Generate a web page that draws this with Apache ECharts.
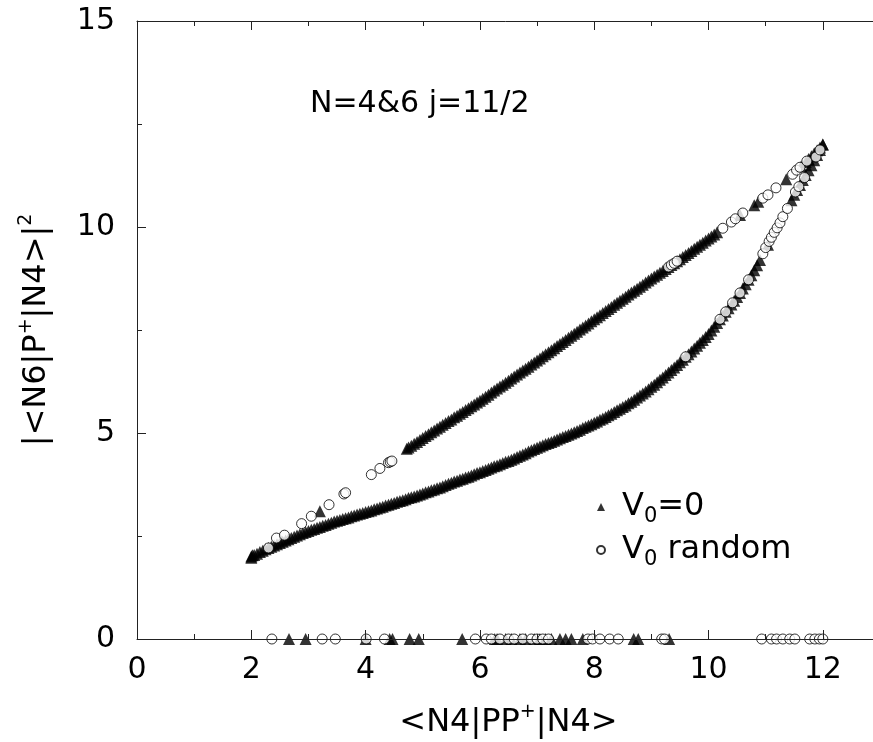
<!DOCTYPE html>
<html>
<head>
<meta charset="utf-8">
<script src="https://cdn.jsdelivr.net/npm/echarts@6/dist/echarts.min.js"></script>
<style>html,body{margin:0;padding:0;background:#fff}#c{width:873px;height:742px}</style>
</head>
<body>
<div id="c"></div>
<script>
// ---- data ----
// V0=0 (filled triangles)
const v0ZeroUpper = [[3.2,3.10],[4.72,4.62],[4.8,4.69],[4.9,4.78],[5.0,4.88],[5.1,4.97],[5.2,5.06],[5.3,5.15],[5.4,5.24],[5.5,5.33],[5.6,5.42],[5.7,5.51],[5.8,5.60],[5.9,5.69],[6.0,5.78],[6.1,5.88],[6.2,5.98],[6.3,6.08],[6.4,6.17],[6.5,6.27],[6.6,6.37],[6.7,6.47],[6.8,6.56],[6.9,6.66],[7.0,6.76],[7.1,6.86],[7.2,6.96],[7.3,7.06],[7.4,7.16],[7.5,7.26],[7.6,7.36],[7.7,7.46],[7.8,7.56],[7.9,7.66],[8.0,7.76],[8.1,7.86],[8.2,7.96],[8.3,8.06],[8.4,8.16],[8.5,8.26],[8.6,8.36],[8.7,8.45],[8.8,8.55],[8.9,8.65],[9.0,8.75],[9.1,8.84],[9.2,8.93],[9.3,9.03],[9.4,9.12],[9.5,9.22],[9.6,9.32],[9.7,9.42],[9.8,9.52],[9.9,9.62],[10.0,9.72],[10.1,9.82],[10.15,9.87],[10.55,10.29],[10.8,10.53],[10.87,10.61],[11.36,11.16],[11.62,11.47],[11.7,11.58],[11.75,11.65],[11.8,11.72],[11.85,11.79],[11.9,11.86],[11.95,11.93],[12.0,12.0]];
const v0ZeroUpperMid = [[4.75,4.65],[4.85,4.74],[4.95,4.83],[5.05,4.93],[5.15,5.02],[5.25,5.11],[5.35,5.2],[5.45,5.29],[5.55,5.38],[5.65,5.47],[5.75,5.56],[5.85,5.65],[5.95,5.74],[6.05,5.83],[6.15,5.93],[6.25,6.03],[6.35,6.13],[6.45,6.22],[6.55,6.32],[6.65,6.42],[6.75,6.52],[6.85,6.61],[6.95,6.71],[7.05,6.81],[7.15,6.91],[7.25,7.01],[7.35,7.11],[7.45,7.21],[7.55,7.31],[7.65,7.41],[7.75,7.51],[7.85,7.61],[7.95,7.71],[8.05,7.81],[8.15,7.91],[8.25,8.01],[8.35,8.11],[8.45,8.21],[8.55,8.31],[8.65,8.41],[8.75,8.5],[8.85,8.6],[8.95,8.7],[9.05,8.8],[9.15,8.89],[9.25,8.98],[9.35,9.08],[9.45,9.17],[9.55,9.27],[9.65,9.37],[9.75,9.47],[9.85,9.57],[9.95,9.67],[10.05,9.77]];
const v0ZeroLower = [[2.0,1.97],[2.02,2.03],[2.0,2.0],[2.1,2.07],[2.2,2.14],[2.3,2.21],[2.4,2.27],[2.5,2.33],[2.6,2.39],[2.7,2.45],[2.8,2.51],[2.9,2.57],[3.0,2.62],[3.1,2.67],[3.2,2.72],[3.3,2.77],[3.4,2.82],[3.5,2.87],[3.6,2.91],[3.7,2.95],[3.8,3.0],[3.9,3.04],[4.0,3.08],[4.1,3.12],[4.2,3.17],[4.3,3.21],[4.4,3.26],[4.5,3.3],[4.6,3.35],[4.7,3.39],[4.8,3.44],[4.9,3.48],[5.0,3.53],[5.1,3.58],[5.2,3.63],[5.3,3.68],[5.4,3.74],[5.5,3.79],[5.6,3.84],[5.7,3.89],[5.8,3.94],[5.9,4.0],[6.0,4.05],[6.1,4.1],[6.2,4.16],[6.3,4.21],[6.4,4.27],[6.5,4.32],[6.6,4.38],[6.7,4.45],[6.8,4.51],[6.9,4.58],[7.0,4.64],[7.1,4.70],[7.2,4.76],[7.3,4.81],[7.4,4.87],[7.5,4.93],[7.6,4.99],[7.7,5.05],[7.8,5.12],[7.9,5.18],[8.0,5.25],[8.1,5.32],[8.2,5.39],[8.3,5.47],[8.4,5.55],[8.5,5.63],[8.6,5.72],[8.7,5.81],[8.8,5.91],[8.9,6.01],[9.0,6.12],[9.1,6.23],[9.2,6.35],[9.3,6.47],[9.4,6.59],[9.5,6.72],[9.6,6.85],[9.7,6.98],[9.8,7.12],[9.9,7.26],[10.0,7.4],[10.05,7.49],[10.1,7.58],[10.15,7.67],[10.2,7.76],[10.25,7.85],[10.3,7.94],[10.35,8.03],[10.4,8.12],[10.45,8.21],[10.5,8.3],[10.55,8.4],[10.6,8.51],[10.65,8.61],[10.7,8.72],[10.75,8.83],[10.8,8.95],[10.85,9.07],[10.9,9.2],[11.04,9.57],[11.45,10.65],[11.5,10.78],[11.55,10.9],[11.6,11.02],[11.65,11.14],[11.7,11.26],[11.75,11.38],[11.8,11.5],[11.85,11.62],[11.9,11.75],[11.95,11.87],[12.0,12.0]];
const v0ZeroLowerMid = [[2.05,2.04],[2.15,2.11],[2.25,2.18],[2.35,2.24],[2.45,2.30],[2.55,2.36],[2.65,2.42],[2.75,2.48],[2.85,2.54],[2.95,2.6],[3.05,2.65],[3.15,2.7],[3.25,2.75],[3.35,2.8],[3.45,2.85],[3.55,2.89],[3.65,2.93],[3.75,2.98],[3.85,3.02],[3.95,3.06],[4.05,3.1],[4.15,3.15],[4.25,3.19],[4.35,3.24],[4.45,3.28],[4.55,3.33],[4.65,3.37],[4.75,3.42],[4.85,3.46],[4.95,3.51],[5.05,3.56],[5.15,3.61],[5.25,3.66],[5.35,3.71],[5.45,3.77],[5.55,3.82],[5.65,3.87],[5.75,3.92],[5.85,3.97],[5.95,4.03],[6.05,4.08],[6.15,4.13],[6.25,4.19],[6.35,4.24],[6.45,4.3],[6.55,4.35],[6.65,4.42],[6.75,4.48],[6.85,4.55],[6.95,4.61],[7.05,4.67],[7.15,4.73],[7.25,4.78],[7.35,4.84],[7.45,4.90],[7.55,4.96],[7.65,5.02],[7.75,5.08],[7.85,5.15],[7.95,5.21],[8.05,5.28],[8.15,5.35],[8.25,5.43],[8.35,5.51],[8.45,5.59],[8.55,5.67],[8.65,5.76],[8.75,5.86],[8.85,5.96],[8.95,6.06],[9.05,6.17],[9.15,6.29],[9.25,6.41],[9.35,6.53],[9.45,6.65],[9.55,6.78],[9.65,6.91],[9.75,7.05],[9.85,7.19],[9.95,7.33]];
const v0ZeroAxisX = [2.66,2.95,4.0,4.42,4.47,4.77,4.93,5.69,6.26,6.3,6.45,6.55,6.7,6.8,6.95,7.05,7.15,7.25,7.4,7.5,7.6,7.8,8.69,8.77,9.31];
// V0 random (open circles)
const randomUpper = [[2.44,2.45],[2.58,2.52],[2.88,2.8],[3.05,2.98],[3.36,3.26],[3.62,3.52],[3.65,3.55],[4.1,3.99],[4.25,4.14],[4.4,4.28],[4.43,4.3],[4.46,4.32],[9.3,9.03],[9.35,9.08],[9.4,9.12],[9.45,9.17],[10.25,9.97],[10.4,10.12],[10.47,10.2],[10.6,10.34],[10.95,10.7],[11.04,10.78],[11.18,10.95],[11.47,11.28],[11.54,11.38],[11.6,11.45],[11.72,11.6]];
const randomLower = [[2.3,2.21],[9.6,6.85],[10.2,7.76],[10.3,7.94],[10.42,8.16],[10.55,8.4],[10.7,8.72],[10.95,9.35],[11.0,9.5],[11.06,9.65],[11.1,9.75],[11.15,9.87],[11.2,9.98],[11.25,10.1],[11.3,10.25],[11.38,10.45],[11.52,10.85],[11.58,10.98],[11.68,11.2],[11.88,11.7],[11.95,11.87]];
const randomAxisX = [2.36,3.24,3.47,4.01,4.33,5.92,6.11,6.2,6.35,6.5,6.6,6.75,6.9,7.0,7.1,7.2,7.89,7.97,8.1,8.27,8.42,9.18,9.23,10.93,11.1,11.19,11.3,11.42,11.51,11.77,11.86,11.94,12.0];

const xTicks = [0,2,4,6,8,10,12];
const yTicks = [0,5,10,15];
const annotation = 'N=4&6 j=11/2';
const xTitle = '{a|<N4|PP}{sup|+}{a||N4>}';
const yTitle = '{a||<N6|P}{sup|+}{a||N4>|}{sup|2}';

// ---- chart ----
const FONT = 'DejaVu Sans';
const chart = echarts.init(document.getElementById('c'), null, {renderer:'canvas'});
const v0ZeroData = v0ZeroLower.concat(v0ZeroLowerMid, v0ZeroUpper, v0ZeroUpperMid, v0ZeroAxisX.map(x => [x, 0]));
const randomData = randomUpper.concat(randomLower, randomAxisX.map(x => [x, 0]));
const richMain = {
  a: {fontFamily: FONT, fontSize: 32, color: '#000', lineHeight: 40, verticalAlign: 'middle'},
  sup: {fontFamily: FONT, fontSize: 19, color: '#000', lineHeight: 16, verticalAlign: 'top'}
};
const axisLine = {show: true, lineStyle: {color: '#222', width: 1}};
chart.setOption({
  animation: false,
  backgroundColor: '#fff',
  grid: {left: 137, top: 21, width: 743, height: 618, containLabel: false, outerBoundsMode: 'none'},
  title: {text: annotation, left: 305, top: 84, textStyle: {fontFamily: FONT, fontSize: 30, fontWeight: 'normal', color: '#000'}},
  legend: {
    orient: 'vertical', left: 591, top: 486, itemGap: 7, itemWidth: 8, itemHeight: 8,
    data: ['V0=0', 'V0 random'],
    formatter: n => n === 'V0=0' ? '{a|V}{s|0}{a|=0}' : '{a|V}{s|0}{a| random}',
    textStyle: {rich: {
      a: {fontFamily: FONT, fontSize: 32, color: '#000', lineHeight: 40, verticalAlign: 'middle'},
      s: {fontFamily: FONT, fontSize: 21, color: '#000', lineHeight: 14, verticalAlign: 'bottom'}
    }, padding: [0, 0, 0, 12]}
  },
  xAxis: [{
    type: 'value', min: 0, max: 13, interval: 2, z: 10,
    axisLine: axisLine,
    axisTick: {show: true, inside: true, length: 9, lineStyle: {color: '#222'}},
    minorTick: {show: true, splitNumber: 2, length: 5, lineStyle: {color: '#222'}},
    splitLine: {show: false},
    axisLabel: {margin: 16, fontFamily: FONT, fontSize: 30, color: '#000', showMaxLabel: false,
      formatter: v => xTicks.includes(v) ? String(v) : ''},
    name: xTitle, nameLocation: 'middle', nameGap: 64,
    nameTextStyle: {rich: richMain}
  }, {
    type: 'value', min: 0, max: 13, interval: 2, position: 'top', z: 10,
    axisLine: axisLine,
    axisTick: {show: true, inside: true, length: 9, lineStyle: {color: '#222'}},
    minorTick: {show: true, splitNumber: 2, length: 5, lineStyle: {color: '#222'}},
    splitLine: {show: false}, axisLabel: {show: false}
  }],
  yAxis: [{
    type: 'value', min: 0, max: 15, interval: 5, z: 10,
    axisLine: axisLine,
    axisTick: {show: true, inside: true, length: 9, lineStyle: {color: '#222'}},
    minorTick: {show: true, splitNumber: 2, length: 5, lineStyle: {color: '#222'}},
    splitLine: {show: false},
    axisLabel: {margin: 22, fontFamily: FONT, fontSize: 30, color: '#000',
      formatter: v => yTicks.includes(v) ? String(v) : ''},
    name: yTitle, nameLocation: 'middle', nameGap: 80,
    nameTextStyle: {rich: richMain}
  }],
  series: [{
    name: 'V0=0', type: 'scatter', symbol: 'triangle', symbolSize: 12,
    itemStyle: {color: '#000'}, data: v0ZeroData, clip: false, z: 2
  }, {
    name: 'V0 random', type: 'scatter', symbol: 'circle', symbolSize: 10,
    itemStyle: {color: '#fff', borderColor: '#000', borderWidth: 1}, data: randomData, clip: false, z: 3
  }]
});
</script>
</body>
</html>
